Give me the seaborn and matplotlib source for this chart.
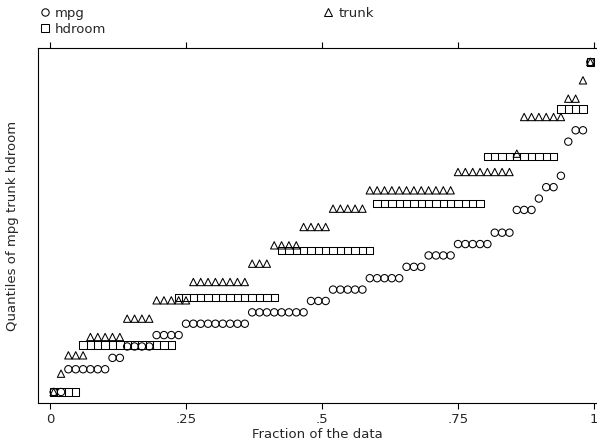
import numpy as np
import pandas as pd
import matplotlib
matplotlib.use("Agg")
import matplotlib.pyplot as plt
import seaborn as sns

# Value counts (74 cars)
mpg_vals = [12, 14, 15, 16, 17, 18, 19, 20, 21, 22, 23, 24, 25, 26, 28, 29, 30, 31, 34, 35, 41]
mpg_freq = [2, 6, 2, 4, 4, 9, 8, 3, 5, 5, 3, 4, 5, 3, 3, 1, 2, 1, 1, 2, 1]
trunk_vals = [5, 6, 7, 8, 9, 10, 11, 12, 13, 14, 15, 16, 17, 18, 20, 21, 22, 23]
trunk_freq = [1, 1, 3, 5, 4, 5, 8, 3, 4, 4, 5, 12, 8, 1, 6, 2, 1, 1]
hdroom_vals = [1.5, 2.0, 2.5, 3.0, 3.5, 4.0, 4.5, 5.0]
hdroom_freq = [4, 13, 14, 13, 15, 10, 4, 1]

series = {
    "mpg": (mpg_vals, mpg_freq, "o"),
    "trunk": (trunk_vals, trunk_freq, "^"),
    "hdroom": (hdroom_vals, hdroom_freq, "s"),
}

# quantile plot: sorted values vs (i-.5)/N, each variable rescaled to its range
rows = []
for name, (vals, freq, _) in series.items():
    v = np.sort(np.repeat(vals, freq)).astype(float)
    n = len(v)
    frac = (np.arange(1, n + 1) - 0.5) / n
    scaled = (v - v.min()) / (v.max() - v.min())
    rows.append(pd.DataFrame({"variable": name, "frac": frac, "q": scaled}))
df = pd.concat(rows, ignore_index=True)

sns.set_style("white")
plt.rcParams["font.family"] = ["DejaVu Sans"]

fig = plt.figure(figsize=(5.97, 4.43), dpi=100)
ax = fig.add_axes([38 / 597, 1 - 403 / 443, 559 / 597, 355 / 443])

handles = []
for name in ["mpg", "hdroom", "trunk"]:
    sub = df[df["variable"] == name]
    sns.scatterplot(data=sub, x="frac", y="q", marker=series[name][2], s=28,
                    facecolors="none", edgecolor="black", linewidth=0.75,
                    ax=ax, label=name, legend=False)
    handles.append(plt.Line2D([], [], ls="none", marker=series[name][2], ms=5.3,
                              mfc="none", mec="black", mew=0.75, label=name))

ax.set_xlim(-12 / 544, 1 + 3 / 544)
ax.set_ylim(-11 / 330, 1 + 14 / 330)
ax.set_xticks([0, 0.25, 0.5, 0.75, 1])
ax.set_xticklabels(["0", ".25", ".5", ".75", "1"], fontsize=9.5)
ax.set_yticks([])
ax.tick_params(axis="x", which="both", bottom=True, top=True, direction="out",
               length=4.5, width=0.8, color="black", pad=3)
for side in ["left", "top", "bottom"]:
    ax.spines[side].set_color("black")
    ax.spines[side].set_linewidth(0.8)
ax.spines["right"].set_visible(False)

ax.set_xlabel("Fraction of the data", fontsize=9.5, labelpad=1)
ax.set_ylabel("Quantiles of mpg trunk hdroom", fontsize=9.5, labelpad=14)

fig.legend(handles=handles, ncol=2, loc="upper left",
           bbox_to_anchor=(38 / 597, 1 - 7 / 443), frameon=False,
           fontsize=9.5, handlelength=1.0, handletextpad=0.3, borderpad=0,
           borderaxespad=0, labelspacing=0.2, columnspacing=16.3)

fig.savefig("out.png", dpi=100)
